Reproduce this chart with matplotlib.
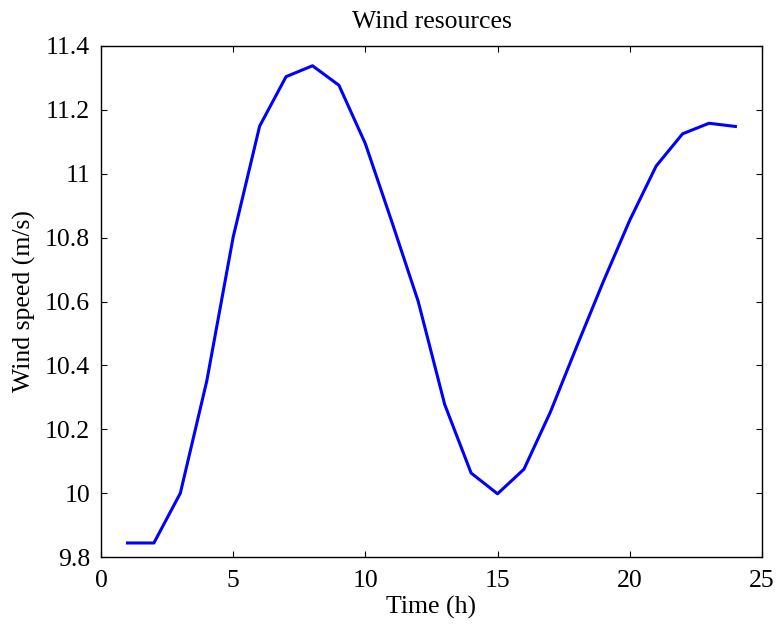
import matplotlib
matplotlib.use("Agg")
import matplotlib.pyplot as plt
from matplotlib.ticker import FuncFormatter

hours = list(range(1, 25))
wind_speed = [9.844, 9.844, 10.0, 10.351, 10.802, 11.149, 11.304, 11.338, 11.277, 11.094,
              10.85, 10.6, 10.278, 10.063, 9.998, 10.075, 10.254, 10.46, 10.662, 10.854,
              11.024, 11.125, 11.158, 11.148]

x_ticks = [0, 5, 10, 15, 20, 25]
y_ticks = [9.8, 10.0, 10.2, 10.4, 10.6, 10.8, 11.0, 11.2, 11.4]

plt.rcParams['font.family'] = ['Liberation Serif', 'DejaVu Serif']

fig = plt.figure(figsize=(7.79, 6.28), dpi=100)
ax = fig.add_axes([0.1297, 0.113, 0.978 - 0.1297, 0.9268 - 0.113])
ax.plot(hours, wind_speed, color='#0000ff', linewidth=2.2)
ax.set_xlim(0, 25)
ax.set_ylim(9.8, 11.4)
ax.set_xticks(x_ticks)
ax.set_yticks(y_ticks)
ax.yaxis.set_major_formatter(FuncFormatter(lambda v, p: f"{v:g}"))
ax.tick_params(direction='in', top=True, right=True, labelsize=18.5, length=4, width=0.8)
ax.tick_params(axis='y', pad=8)
ax.tick_params(axis='x', pad=9)
for s in ax.spines.values():
    s.set_linewidth(1.0)
ax.set_xlabel('Time (h)', fontsize=18.5, labelpad=3)
ax.set_ylabel('Wind speed (m/s)', fontsize=18.5, labelpad=6)
ax.set_title('Wind resources', fontsize=18.5, pad=13)
fig.savefig('out.png', dpi=100)
